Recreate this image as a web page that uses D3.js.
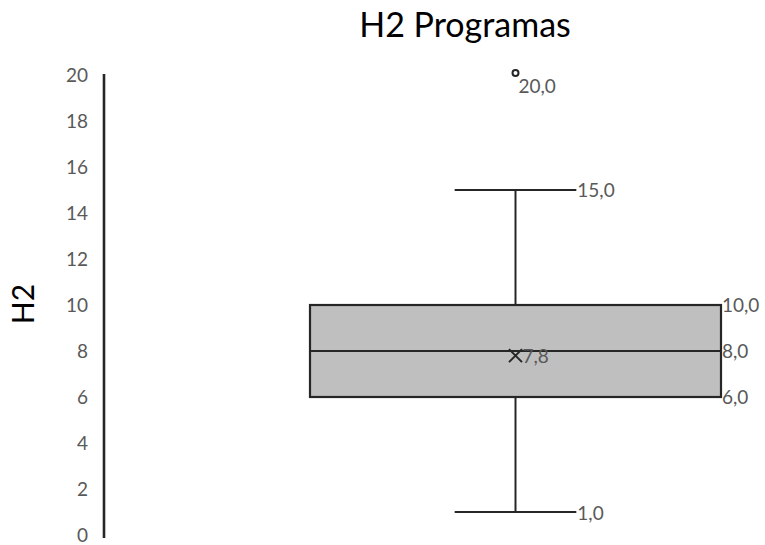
<!DOCTYPE html>
<html>
<head>
<meta charset="utf-8">
<script src="https://cdn.jsdelivr.net/npm/d3@7"></script>
<style>
  html, body { margin: 0; padding: 0; background: #fff; }
  svg { display: block; font-family: Lato, "Open Sans", sans-serif; }
</style>
</head>
<body>
<svg id="chart" width="765" height="545"></svg>
<script>
// Box plot summary for the "H2" series
const categories = ["H2"];
const minValues = [1.0];
const q1Values = [6.0];
const medianValues = [8.0];
const q3Values = [10.0];
const maxValues = [15.0];
const meanValues = [7.8];
const outlierValues = [[20.0]];
const yTicks = [0, 2, 4, 6, 8, 10, 12, 14, 16, 18, 20];

const fmt = v => d3.format(".1f")(v).replace(".", ",");

const svg = d3.select("#chart");
const axisX = 104;

const y = d3.scaleLinear().domain([0, 20]).range([535, 75]);
const x = d3.scaleBand().domain(categories).range([310, 721]).padding(0);

const dark = "#262626";
const labelGrey = "#595959";
const labelSize = 19;

// Title
svg.append("text")
  .attr("x", 465).attr("y", 37)
  .attr("text-anchor", "middle")
  .attr("font-size", 34)
  .attr("fill", "#000")
  .text("H2 Programas");

// Y axis title
svg.append("text")
  .attr("transform", `translate(34,304) rotate(-90)`)
  .attr("text-anchor", "middle")
  .attr("font-size", 30)
  .attr("fill", "#000")
  .text("H2");

// Y axis: line plus tick labels
const yAxis = d3.axisLeft(y).tickValues(yTicks).tickSize(0).tickPadding(16)
  .tickFormat(d3.format("d"));
const gy = svg.append("g").attr("transform", `translate(${axisX},0)`).call(yAxis);
gy.select(".domain").attr("stroke", dark).attr("stroke-width", 2.6)
  .attr("d", `M0,${y(20) - 1}V${y(0) + 3}`);
gy.selectAll(".tick text")
  .attr("font-size", labelSize)
  .attr("fill", labelGrey)
  .attr("font-family", "Lato, 'Open Sans', sans-serif");

// Boxes
categories.forEach((c, i) => {
  const x0 = x(c), bw = x.bandwidth(), cx = x0 + bw / 2;
  const capHalf = bw * 0.148;
  const g = svg.append("g");

  // whiskers
  g.append("line").attr("x1", cx).attr("x2", cx)
    .attr("y1", y(q3Values[i])).attr("y2", y(maxValues[i]))
    .attr("stroke", dark).attr("stroke-width", 2);
  g.append("line").attr("x1", cx).attr("x2", cx)
    .attr("y1", y(q1Values[i])).attr("y2", y(minValues[i]))
    .attr("stroke", dark).attr("stroke-width", 2);
  [maxValues[i], minValues[i]].forEach(v => {
    g.append("line").attr("x1", cx - capHalf).attr("x2", cx + capHalf)
      .attr("y1", y(v)).attr("y2", y(v))
      .attr("stroke", dark).attr("stroke-width", 2);
  });

  // box
  g.append("rect").attr("x", x0).attr("width", bw)
    .attr("y", y(q3Values[i])).attr("height", y(q1Values[i]) - y(q3Values[i]))
    .attr("fill", "#bfbfbf").attr("stroke", dark).attr("stroke-width", 2.2);
  g.append("line").attr("x1", x0).attr("x2", x0 + bw)
    .attr("y1", y(medianValues[i])).attr("y2", y(medianValues[i]))
    .attr("stroke", dark).attr("stroke-width", 2.2);

  // mean marker
  const my = y(meanValues[i]), s = 6.5;
  g.append("path")
    .attr("d", `M${cx - s},${my - s}L${cx + s},${my + s}M${cx - s},${my + s}L${cx + s},${my - s}`)
    .attr("stroke", dark).attr("stroke-width", 2).attr("fill", "none");

  // outliers
  outlierValues[i].forEach(v => {
    g.append("circle").attr("cx", cx).attr("cy", y(v) - 2).attr("r", 3)
      .attr("fill", "none").attr("stroke", dark).attr("stroke-width", 2);
  });

  // data labels
  const lab = (tx, ty, v) => g.append("text")
    .attr("x", tx).attr("y", ty).attr("dy", "0.35em")
    .attr("font-size", labelSize).attr("fill", labelGrey).text(fmt(v));
  lab(cx + capHalf + 1, y(maxValues[i]), maxValues[i]);
  lab(cx + capHalf + 1, y(minValues[i]) + 1, minValues[i]);
  lab(x0 + bw + 1, y(q3Values[i]), q3Values[i]);
  lab(x0 + bw + 1, y(medianValues[i]), medianValues[i]);
  lab(x0 + bw + 1, y(q1Values[i]), q1Values[i]);
  lab(cx + 7, my + 1, meanValues[i]);
  outlierValues[i].forEach(v => lab(cx + 3, y(v) + 11, v));
});
</script>
</body>
</html>
